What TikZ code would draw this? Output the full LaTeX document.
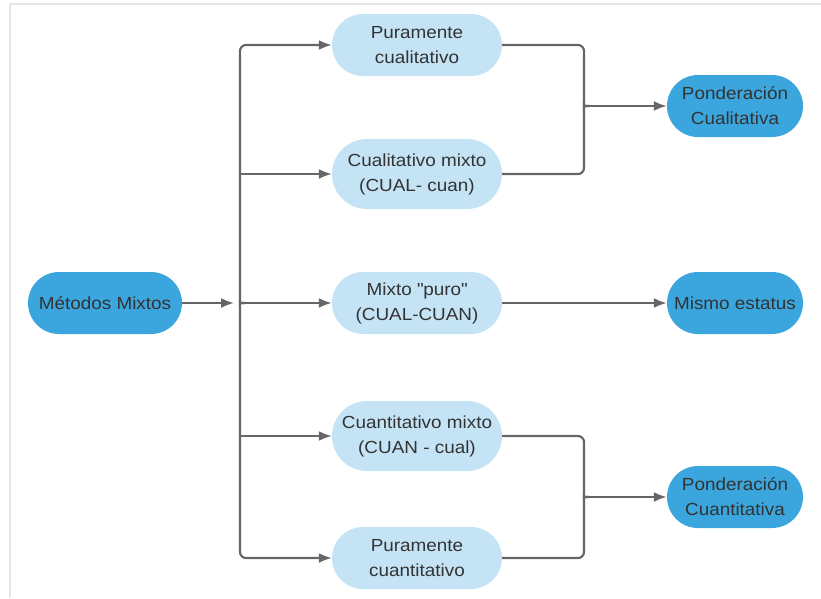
\documentclass[tikz,border=0pt]{standalone}
\usepackage{fontspec}
\setmainfont{Liberation Sans}[FakeStretch=1.08]
\usetikzlibrary{arrows.meta}
\definecolor{darkblue}{HTML}{3AA6DD}
\definecolor{lightblue}{HTML}{C4E4F6}
\definecolor{textgray}{HTML}{333333}
\definecolor{linegray}{HTML}{666666}
\definecolor{bordergray}{HTML}{E6E6E6}
\begin{document}
\begin{tikzpicture}[x=1pt,y=-1pt,
  box/.style={align=center,text=textgray,inner sep=0pt,font=\fontsize{17.5}{25}\selectfont},
  root/.style={box,fill=darkblue,minimum width=154pt,minimum height=62pt,rounded corners=31pt},
  kind/.style={box,fill=lightblue,minimum width=170pt,minimum height=62pt,rounded corners=31pt},
  kindtall/.style={kind,minimum height=70pt,rounded corners=35pt},
  result/.style={box,fill=darkblue,minimum width=136pt,minimum height=62pt,rounded corners=31pt},
  wire/.style={draw=linegray,line width=2.2pt,rounded corners=6pt},
  link/.style={wire,-{Latex[length=13pt,width=10pt]}}]
  \useasboundingbox (0,0) rectangle (821,598);
  \draw[bordergray,line width=1.5pt] (821,4) -- (10,4) -- (10,598);
  \node[root] (mm) at (105,303) {Métodos Mixtos};
  \node[kind] (pcual) at (417,45) {Puramente\\cualitativo};
  \node[kindtall] (cmix) at (417,174) {Cualitativo mixto\\(CUAL- cuan)};
  \node[kind] (mpuro) at (417,303) {Mixto \textquotedbl puro\textquotedbl\\(CUAL-CUAN)};
  \node[kindtall] (qmix) at (417,436) {Cuantitativo mixto\\(CUAN - cual)};
  \node[kind] (pcuan) at (417,558) {Puramente\\cuantitativo};
  \node[result] (ponc) at (735,106) {Ponderación\\Cualitativa};
  \node[result] (mismo) at (735,303) {Mismo estatus};
  \node[result] (ponq) at (735,497) {Ponderación\\Cuantitativa};
  \coordinate (split) at (240,303);
  \coordinate (jt) at (584,106);
  \coordinate (jb) at (584,497);
  \draw[link] (mm) -- ([xshift=-6pt]split);
  \draw[link] ([xshift=5pt]split) .. controls (split) .. ([yshift=5pt]split)
    -- (split |- pcual) -- (pcual.west);
  \draw[link] ([xshift=5pt]split) .. controls (split) .. ([yshift=-5pt]split)
    -- (split |- pcuan) -- (pcuan.west);
  \draw[link] (split |- cmix) -- (cmix);
  \draw[link] (split |- qmix) -- (qmix);
  \draw[link] ([xshift=5pt]split) -- (mpuro);
  \draw[wire] (pcual.east) -- (pcual.east -| jt) -- ([yshift=5pt]jt)
    .. controls (jt) .. ([xshift=5pt]jt);
  \draw[wire] (cmix.east) -- (cmix.east -| jt) -- ([yshift=-5pt]jt)
    .. controls (jt) .. ([xshift=5pt]jt);
  \draw[link] ([xshift=5pt]jt) -- (ponc);
  \draw[wire] (qmix.east) -- (qmix.east -| jb) -- ([yshift=5pt]jb)
    .. controls (jb) .. ([xshift=5pt]jb);
  \draw[wire] (pcuan.east) -- (pcuan.east -| jb) -- ([yshift=-5pt]jb)
    .. controls (jb) .. ([xshift=5pt]jb);
  \draw[link] ([xshift=5pt]jb) -- (ponq);
  \draw[link] (mpuro) -- (mismo);
\end{tikzpicture}
\end{document}
